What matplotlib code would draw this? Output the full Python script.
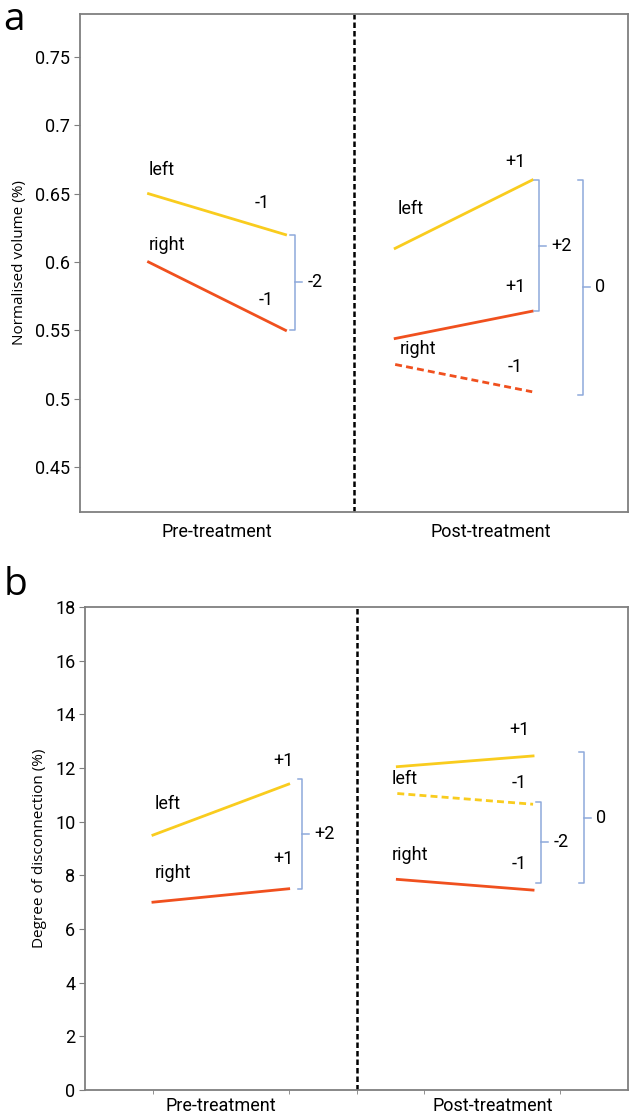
import numpy as np
import matplotlib.pyplot as plt

# panel a - normalised volume (%)
a_pre_left = [0.65, 0.62]
a_pre_right = [0.60, 0.55]
a_post_left = [0.61, 0.66]
a_post_right = [0.544, 0.564]
a_post_right_dash = [0.525, 0.505]

# panel b - degree of disconnection (%)
b_pre_left = [9.5, 11.4]
b_pre_right = [7.0, 7.5]
b_post_left = [12.05, 12.45]
b_post_left_dash = [11.05, 10.65]
b_post_right = [7.85, 7.45]

groups = ["Pre-treatment", "Post-treatment"]
x_pre = [1, 3]
x_post = [4.6, 6.6]

yellow = "#F9CC1E"
red = "#F0501E"
blue = "#8EA9DB"
grey = "#7f7f7f"
txt_font = "Roboto"

fig = plt.figure(figsize=(6.3, 11.15), dpi=100)
ax1 = fig.add_axes([0.127, 0.5408, 0.870, 0.4466])
ax2 = fig.add_axes([0.135, 0.0224, 0.862, 0.4332])


def bracket(ax, x, y0, y1, label, w=0.07, t=0.1):
    ax.plot([x - w, x, x, x - w], [y0, y0, y1, y1], color=blue, lw=1.1)
    ym = (y0 + y1) / 2
    ax.plot([x, x + t], [ym, ym], color=blue, lw=1.1)
    ax.text(x + t + 0.08, ym, label, ha="left", va="center", fontsize=13, family=txt_font)


def label(ax, x, y, s, ha="center"):
    ax.text(x, y, s, ha=ha, va="center", fontsize=13, family=txt_font)


def style(ax, ylim, yticks, yfmt, ylabel):
    ax.set_xlim(0, 8)
    ax.set_ylim(*ylim)
    ax.set_yticks(yticks)
    ax.set_yticklabels([yfmt(v) for v in yticks], fontsize=13, family=txt_font)
    ax.set_xticks([2, 6])
    ax.set_xticklabels(groups, fontsize=13, family=txt_font)
    ax.tick_params(axis="x", length=0, pad=8)
    ax.tick_params(axis="y", length=4, color=grey, pad=3)
    for s in ax.spines.values():
        s.set_color(grey)
        s.set_linewidth(1.3)
    ax.axvline(4, color="black", ls=(0, (2.2, 1.2)), lw=1.8)
    ax.set_ylabel(ylabel, fontsize=11, family="Open Sans", labelpad=6)


# ---- panel a
ax1.plot(x_pre, a_pre_left, color=yellow, lw=2)
ax1.plot(x_pre, a_pre_right, color=red, lw=2)
ax1.plot(x_post, a_post_left, color=yellow, lw=2)
ax1.plot(x_post, a_post_right, color=red, lw=2)
ax1.plot(x_post, a_post_right_dash, color=red, lw=2, ls=(0, (2.5, 1.5)))
style(ax1, (0.417, 0.7815), [0.45, 0.5, 0.55, 0.6, 0.65, 0.7, 0.75],
      lambda v: ("%.2f" % v).rstrip("0"), "Normalised volume (%)")

label(ax1, 1.0, 0.667, "left", ha="left")
label(ax1, 1.0, 0.6125, "right", ha="left")
label(ax1, 2.66, 0.643, "-1")
label(ax1, 2.72, 0.572, "-1")
label(ax1, 4.63, 0.639, "left", ha="left")
label(ax1, 4.66, 0.536, "right", ha="left")
label(ax1, 6.35, 0.673, "+1")
label(ax1, 6.35, 0.582, "+1")
label(ax1, 6.35, 0.523, "-1")
bracket(ax1, 3.14, a_pre_left[1], a_pre_right[1], "-2")
bracket(ax1, 6.70, a_post_left[1], a_post_right[1], "+2")
bracket(ax1, 7.34, a_post_left[1], a_post_right_dash[1] - 0.002, "0")

# ---- panel b
ax2.plot(x_pre, b_pre_left, color=yellow, lw=2)
ax2.plot(x_pre, b_pre_right, color=red, lw=2)
ax2.plot(x_post, b_post_left, color=yellow, lw=2)
ax2.plot(x_post, b_post_left_dash, color=yellow, lw=2, ls=(0, (2.5, 1.5)))
ax2.plot(x_post, b_post_right, color=red, lw=2)
style(ax2, (0, 18), list(range(0, 19, 2)), lambda v: "%d" % v,
      "Degree of disconnection (%)")
ax2.set_xticks([1, 2, 3, 4, 5, 6, 7], minor=True)
ax2.tick_params(axis="x", which="minor", length=3, color=grey, direction="out")
ax2.tick_params(axis="x", which="major", pad=5)

label(ax2, 1.02, 10.66, "left", ha="left")
label(ax2, 1.02, 8.1, "right", ha="left")
label(ax2, 2.92, 12.27, "+1")
label(ax2, 2.92, 8.6, "+1")
label(ax2, 4.52, 11.6, "left", ha="left")
label(ax2, 4.52, 8.76, "right", ha="left")
label(ax2, 6.4, 13.4, "+1")
label(ax2, 6.4, 11.43, "-1")
label(ax2, 6.4, 8.43, "-1")
bracket(ax2, 3.2, b_pre_left[1] + 0.2, b_pre_right[1], "+2")
bracket(ax2, 6.72, b_post_left_dash[1] + 0.1, b_post_right[1] + 0.25, "-2")
bracket(ax2, 7.35, b_post_left[1] + 0.15, b_post_right[1] + 0.25, "0")

fig.text(0.005, 0.999, "a", fontsize=28, family="Open Sans", va="top")
fig.text(0.005, 0.492, "b", fontsize=28, family="Open Sans", va="top")

fig.savefig("out.png", dpi=100)
